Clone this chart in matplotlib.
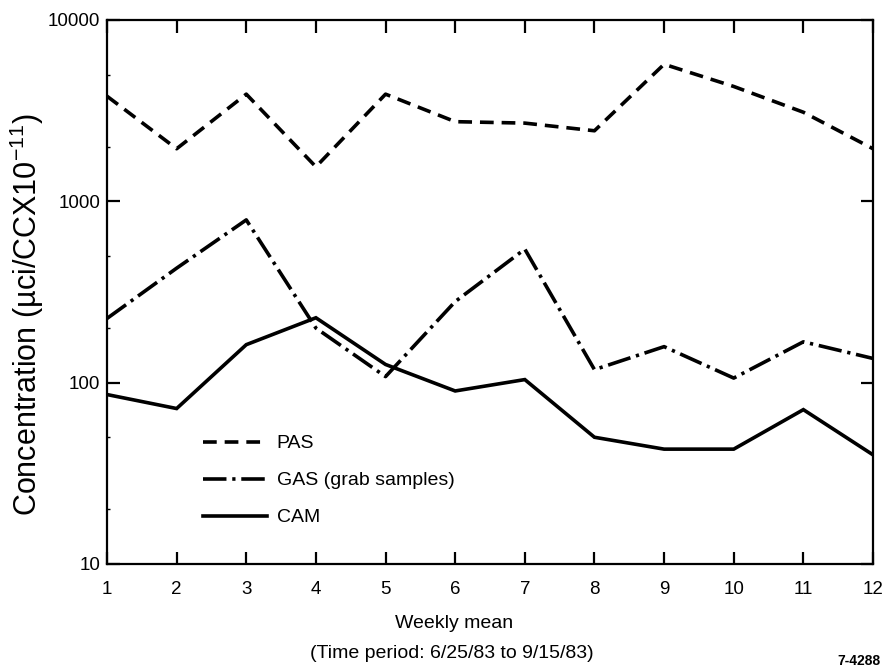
import matplotlib
matplotlib.use("Agg")
import matplotlib.pyplot as plt
from matplotlib.ticker import FixedLocator, FixedFormatter, LogLocator, NullFormatter

plt.rcParams['font.family'] = ['Liberation Sans', 'DejaVu Sans']
plt.rcParams['mathtext.fontset'] = 'custom'
plt.rcParams['mathtext.rm'] = 'Liberation Sans'
plt.rcParams['mathtext.it'] = 'Liberation Sans:italic'

weeks = [1, 2, 3, 4, 5, 6, 7, 8, 9, 10, 11, 12]
pas = [3800, 1950, 3900, 1550, 3900, 2750, 2700, 2450, 5700, 4300, 3100, 1950]
gas = [226, 428, 790, 200, 108, 280, 545, 118, 158, 106, 168, 136]
cam = [86, 72, 162, 228, 126, 90, 104, 50, 43, 43, 71, 40]

series_labels = ["PAS", "GAS (grab samples)", "CAM"]
ytick_vals = [10, 100, 1000, 10000]
ytick_labels = ["10", "100", "1000", "10000"]

fig = plt.figure(figsize=(8.83, 6.69), dpi=100)
ax = fig.add_axes([107/883, 1-564/669, (873-107)/883, (564-20)/669])

lw = 2.6
ax.plot(weeks, pas, color='black', lw=lw, dashes=(3.8, 2.2), label=series_labels[0])
ax.plot(weeks, gas, color='black', lw=lw, dashes=(6.5, 1.6, 0.9, 1.6), label=series_labels[1])
ax.plot(weeks, cam, color='black', lw=lw, solid_joinstyle='miter', label=series_labels[2])

ax.set_yscale('log')
ax.set_ylim(10, 10000)
ax.set_xlim(1, 12)

ax.yaxis.set_major_locator(FixedLocator(ytick_vals))
ax.yaxis.set_major_formatter(FixedFormatter(ytick_labels))
ax.yaxis.set_minor_locator(LogLocator(base=10, subs=(2, 5)))
ax.yaxis.set_minor_formatter(NullFormatter())
ax.set_xticks(weeks)
ax.set_xticklabels([str(w) for w in weeks])

for s in ax.spines.values():
    s.set_linewidth(1.6)

ax.tick_params(axis='x', which='major', direction='in', length=9, width=1.6,
               top=True, bottom=True, labelsize=13.5, pad=12)
ax.tick_params(axis='y', which='major', direction='in', length=9, width=1.6,
               left=True, right=True, labelsize=13.5, pad=5)
ax.tick_params(axis='y', which='minor', direction='in', length=2.5, width=1.0,
               left=True, right=False)

ax.set_ylabel("Concentration (\u00b5ci/CCX10$^{-11}$)", fontsize=22)
ax.yaxis.set_label_coords((46-107)/766, 1-(315-20)/544)

leg = ax.legend(loc='upper left', bbox_to_anchor=(88/766, 1-(427-20)/544),
                frameon=False, fontsize=14, handlelength=3.3, handletextpad=0.5,
                labelspacing=1.0, borderaxespad=0)

fig.text(454/883, 1-623/669, "Weekly mean", ha='center', va='center', fontsize=14)
fig.text(452/883, 1-653/669, "(Time period: 6/25/83 to 9/15/83)", ha='center', va='center', fontsize=14)
fig.text(881/883, 1-661/669, "7-4288", ha='right', va='center', fontsize=10, fontweight='bold')

fig.savefig("out.png", dpi=100)
